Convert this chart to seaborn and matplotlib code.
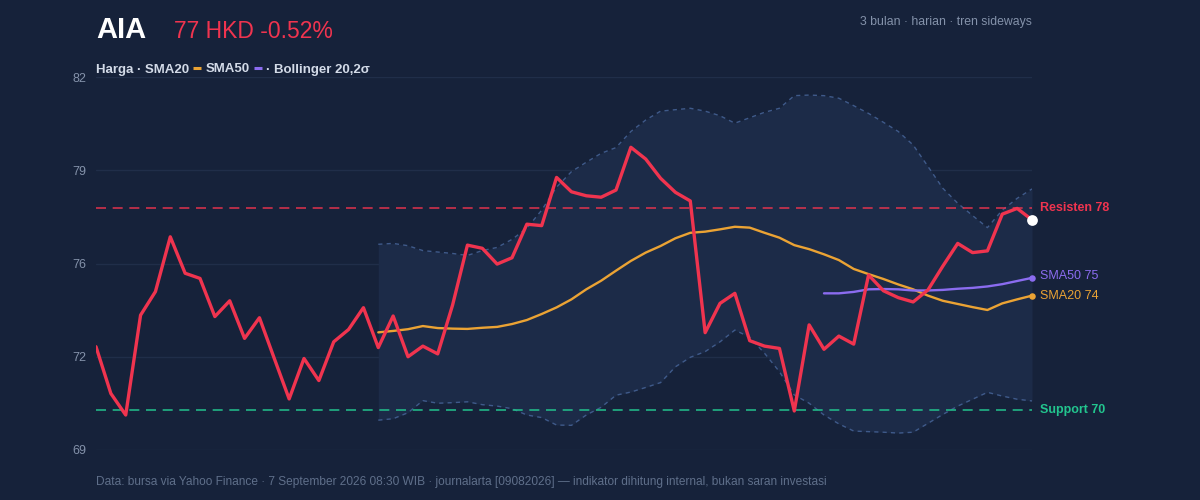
import numpy as np
import pandas as pd
import matplotlib
matplotlib.use('Agg')
import matplotlib.pyplot as plt
import seaborn as sns
from matplotlib.lines import Line2D

# harga penutupan harian AIA (64 hari)
price = [72.60, 70.97, 70.22, 73.70, 74.52, 76.43, 75.16, 74.98, 73.65, 74.20,
         72.89, 73.61, 72.19, 70.78, 72.19, 71.42, 72.77, 73.20, 73.96, 72.57,
         73.67, 72.25, 72.62, 72.35, 74.05, 76.14, 76.03, 75.48, 75.70, 76.87,
         76.82, 78.50, 78.00, 77.86, 77.81, 78.06, 79.55, 79.14, 78.47, 77.98,
         77.68, 73.09, 74.11, 74.46, 72.81, 72.62, 72.54, 70.36, 73.36, 72.51,
         72.97, 72.69, 75.10, 74.55, 74.31, 74.16, 74.58, 75.41, 76.20, 75.88,
         75.94, 77.22, 77.42, 77.02]

# indikator mulai hari ke-19 (SMA20 / Bollinger) dan ke-49 (SMA50)
sma20 = [73.10, 73.15, 73.21, 73.32, 73.25, 73.23, 73.22, 73.26, 73.29, 73.39,
         73.53, 73.74, 73.97, 74.25, 74.60, 74.90, 75.25, 75.59, 75.88, 76.11,
         76.38, 76.57, 76.61, 76.69, 76.78, 76.75, 76.57, 76.40, 76.14, 76.00,
         75.82, 75.62, 75.31, 75.13, 74.96, 74.77, 74.60, 74.38, 74.20, 74.09,
         73.98, 73.88, 74.11, 74.25, 74.38]
bb_upper = [76.17, 76.20, 76.12, 75.95, 75.90, 75.85, 75.78, 75.95, 76.06, 76.34,
            76.73, 77.36, 78.16, 78.70, 79.03, 79.34, 79.54, 80.10, 80.50, 80.81,
            80.86, 80.91, 80.81, 80.65, 80.39, 80.58, 80.77, 80.91, 81.35, 81.37,
            81.35, 81.26, 81.00, 80.73, 80.42, 80.10, 79.63, 78.88, 78.12, 77.60,
            77.17, 76.75, 77.36, 77.77, 78.10]
bb_lower = [70.04, 70.09, 70.30, 70.72, 70.63, 70.65, 70.68, 70.58, 70.53, 70.44,
            70.22, 70.13, 69.87, 69.86, 70.22, 70.49, 70.91, 71.02, 71.18, 71.35,
            71.90, 72.23, 72.43, 72.77, 73.18, 72.93, 72.37, 71.73, 70.92, 70.63,
            70.22, 69.91, 69.66, 69.64, 69.62, 69.59, 69.62, 69.93, 70.24, 70.53,
            70.77, 71.01, 70.88, 70.77, 70.71]
sma50 = [74.46, 74.46, 74.51, 74.60, 74.61, 74.60, 74.56, 74.56, 74.58, 74.62,
         74.65, 74.70, 74.78, 74.89, 75.00]

resistance = 77.45
support = 70.39
y_ticks = [69, 72.25, 75.5, 78.75, 82]
y_tick_labels = ['69', '72', '76', '79', '82']

n = len(price)
df = pd.DataFrame({'day': np.arange(n), 'price': price})
pad20 = [np.nan] * (n - len(sma20))
pad50 = [np.nan] * (n - len(sma50))
df['sma20'] = pad20 + sma20
df['upper'] = pad20 + bb_upper
df['lower'] = pad20 + bb_lower
df['sma50'] = pad50 + sma50

BG = '#16223a'
BAND = '#1c2b48'
GRID = '#202e49'
RED = '#f0344f'
ORANGE = '#eba334'
PURPLE = '#8b6cf0'
GREEN = '#22c58e'
MUTED = '#8492aa'
LIGHT = '#d3dbe8'
DASHC = '#3f5a8a'

sns.set_theme(style='dark')
plt.rcParams['font.family'] = ['Liberation Sans', 'DejaVu Sans']

W, H = 1200, 500
fig = plt.figure(figsize=(12, 5), dpi=100, facecolor=BG)
ax = fig.add_axes([96 / W, 1 - 450 / H, (1032 - 96) / W, (450 - 77) / H])
ax.set_facecolor(BG)

# pita Bollinger
band = df.dropna(subset=['upper'])
ax.fill_between(band['day'], band['lower'], band['upper'], color=BAND, lw=0, zorder=1)
sns.lineplot(data=df, x='day', y='upper', ax=ax, color=DASHC, lw=1,
             linestyle=(0, (3, 3)), zorder=2)
sns.lineplot(data=df, x='day', y='lower', ax=ax, color=DASHC, lw=1,
             linestyle=(0, (3, 3)), zorder=2)

# garis resisten & support
ax.axhline(resistance, color=RED, lw=1.2, ls=(0, (6, 4)), alpha=0.85, zorder=2)
ax.axhline(support, color=GREEN, lw=1.2, ls=(0, (6, 4)), alpha=0.9, zorder=2)

sns.lineplot(data=df, x='day', y='sma20', ax=ax, color=ORANGE, lw=1.7, zorder=3)
sns.lineplot(data=df, x='day', y='sma50', ax=ax, color=PURPLE, lw=1.7, zorder=3)
sns.lineplot(data=df, x='day', y='price', ax=ax, color=RED, lw=2.4, zorder=4)

last = df.iloc[-1]
ax.scatter([last['day']], [last['price']], s=60, color='white', zorder=6,
           linewidths=0, clip_on=False)
ax.scatter([last['day']], [last['sma50']], s=22, color=PURPLE, zorder=5,
           linewidths=0, clip_on=False)
ax.scatter([last['day']], [last['sma20']], s=22, color=ORANGE, zorder=5,
           linewidths=0, clip_on=False)

ax.set_xlim(0, n - 1)
ax.set_ylim(y_ticks[0], y_ticks[-1])
ax.set_yticks(y_ticks)
ax.set_yticklabels(y_tick_labels)
ax.set_xticks([])
ax.set_xlabel('')
ax.set_ylabel('')
ax.tick_params(axis='y', length=0, pad=7, labelsize=9, labelcolor=MUTED)
ax.grid(axis='y', color=GRID, lw=1)
ax.grid(axis='x', visible=False)
for s in ax.spines.values():
    s.set_visible(False)

# label kanan
def right_label(y, text, color, bold=False, dy=0):
    ax.annotate(text, xy=(1, y), xycoords=('axes fraction', 'data'),
                xytext=(6, dy), textcoords='offset points', va='center', ha='left',
                color=color, fontsize=9, fontweight='bold' if bold else 'normal')

right_label(resistance, 'Resisten 78', RED, bold=True)
right_label(last['sma50'], 'SMA50 75', PURPLE, dy=1.5)
right_label(last['sma20'], 'SMA20 74', ORANGE, dy=-0.5)
right_label(support, 'Support 70', GREEN, bold=True)

# judul
renderer = fig.canvas.get_renderer()
fig.text(96 / W, 1 - 38.5 / H, 'AIA', color='white', fontsize=21, fontweight='bold',
         va='baseline', ha='left')
fig.text(174 / W, 1 - 38.5 / H, '77 HKD -0.52%', color=RED, fontsize=16.5,
         va='baseline', ha='left')
fig.text(1032 / W, 1 - 25.5 / H, '3 bulan · harian · tren sideways', color=MUTED,
         fontsize=8.8, va='baseline', ha='right')

# legenda
ly = 1 - 72.5 / H
def chain(x_px, s):
    t = fig.text(x_px / W, ly, s, color=LIGHT, fontsize=9.5, fontweight='bold',
                 va='baseline', ha='left')
    return t.get_window_extent(renderer).x1

def dash(x_px, color):
    fig.add_artist(Line2D([x_px / W, (x_px + 8) / W], [1 - 68 / H, 1 - 68 / H],
                          transform=fig.transFigure, color=color, lw=2.2,
                          solid_capstyle='butt'))
    return x_px + 8

x = chain(96, 'Harga · SMA20')
x = dash(x + 4, ORANGE)
x = chain(x + 5, 'SMA50')
x = dash(x + 4, PURPLE)
chain(x + 4, '· Bollinger 20,2σ')

fig.text(96 / W, 1 - 485 / H,
         'Data: bursa via Yahoo Finance · 7 September 2026 08:30 WIB · journalarta [09082026] '
         '— indikator dihitung internal, bukan saran investasi',
         color='#5f6f8a', fontsize=8.6, va='baseline', ha='left')

fig.savefig('out.png', dpi=100, facecolor=BG)
